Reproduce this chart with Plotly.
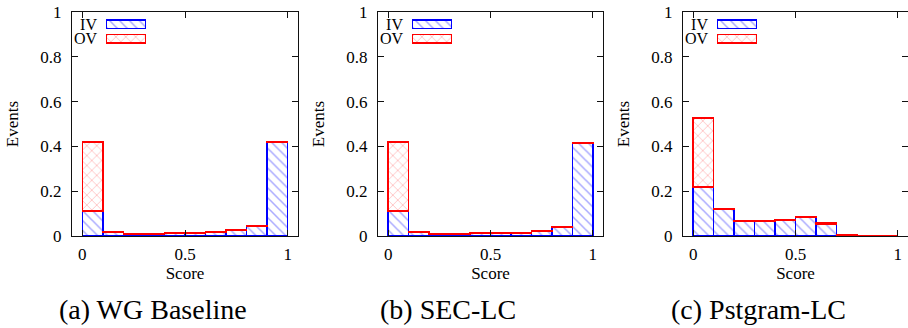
import plotly.graph_objects as go

# ---- data ----
bin_centers = [0.05, 0.15, 0.25, 0.35, 0.45, 0.55, 0.65, 0.75, 0.85, 0.95]
x_tick_vals = [0, 0.5, 1]
x_tick_text = ["0", "0.5", "1"]
y_tick_vals = [0, 0.2, 0.4, 0.6, 0.8, 1]
y_tick_text = ["0", "0.2", "0.4", "0.6", "0.8", "1"]

wg_iv = [0.111, 0.016, 0.009, 0.009, 0.014, 0.014, 0.015, 0.025, 0.044, 0.418]
wg_ov = [0.309, 0.002, 0.001, 0.001, 0.002, 0.002, 0.002, 0.002, 0.002, 0.002]

sec_iv = [0.111, 0.016, 0.009, 0.009, 0.013, 0.013, 0.014, 0.023, 0.041, 0.416]
sec_ov = [0.309, 0.002, 0.001, 0.001, 0.002, 0.002, 0.002, 0.002, 0.002, 0.002]

pst_iv = [0.219, 0.118, 0.064, 0.064, 0.070, 0.085, 0.054, 0.0, 0, 0]
pst_ov = [0.308, 0.002, 0.002, 0.002, 0.002, 0.003, 0.003, 0.007, 0, 0]

captions = ["(a) WG Baseline", "(b) SEC-LC", "(c) Pstgram-LC"]
series_names = ["IV", "OV"]

panels = [(wg_iv, wg_ov), (sec_iv, sec_ov), (pst_iv, pst_ov)]

# ---- layout geometry ----
W, H = 908, 328
panel_px = [(72, 298), (378, 603), (683, 908)]
plot_top, plot_bot = 12, 236
caption_cx = [153, 448, 758]

FONT = '"Liberation Serif", "Times New Roman", Times, serif'
IV_STYLE = dict(color="white", line=dict(color="#0000ff", width=1.5),
                pattern=dict(shape="\\", fgcolor="rgba(30,30,255,0.75)", bgcolor="white",
                             size=7, solidity=0.22))
OV_STYLE = dict(color="white", line=dict(color="#ff0000", width=1.5),
                pattern=dict(shape="x", fgcolor="rgba(255,40,40,0.7)", bgcolor="white",
                             size=7, solidity=0.2))

fig = go.Figure()
layout = dict(
    width=W, height=H, margin=dict(l=0, r=0, t=0, b=0, autoexpand=False),
    paper_bgcolor="white", plot_bgcolor="rgba(0,0,0,0)",
    barmode="stack", showlegend=False,
    font=dict(family=FONT, size=17, color="black"),
)

ydom = [1 - plot_bot / H, 1 - plot_top / H]
annotations = []
for i, (iv, ov) in enumerate(panels):
    k = i + 1
    xa = "x" if k == 1 else f"x{k}"
    ya = "y" if k == 1 else f"y{k}"
    fig.add_trace(go.Bar(x=bin_centers, y=iv, width=0.1, name=series_names[0],
                         marker=IV_STYLE, xaxis=xa, yaxis=ya))
    fig.add_trace(go.Bar(x=bin_centers, y=ov, width=0.1, name=series_names[1],
                         marker=OV_STYLE, xaxis=xa, yaxis=ya))
    x0, x1 = panel_px[i]
    xdom = [x0 / W, min(x1 / W, 1.0)]
    axcommon = dict(showgrid=False, zeroline=False, showline=True, linecolor="#111",
                    linewidth=1.3, mirror="ticks", ticks="inside", ticklen=6,
                    tickcolor="#111", tickwidth=1.3, automargin=False,
                    tickfont=dict(family=FONT, size=17, color="black"))
    layout[f"xaxis{k if k > 1 else ''}"] = dict(
        domain=xdom, range=[-0.05, 1.05], tickvals=x_tick_vals, ticktext=x_tick_text,
        anchor=ya, ticklabelstandoff=2,
        title=dict(text="Score", font=dict(family=FONT, size=17), standoff=3), **axcommon)
    layout[f"yaxis{k if k > 1 else ''}"] = dict(
        domain=ydom, range=[0, 1], tickvals=y_tick_vals, ticktext=y_tick_text,
        anchor=xa, ticklabelstandoff=6,
        title=dict(text="Events", font=dict(family=FONT, size=17), standoff=17), **axcommon)

    # legend swatches drawn on their own small axes
    kk = k + 3
    sxa, sya = f"x{kk}", f"y{kk}"
    fig.add_trace(go.Bar(y=[series_names[0]], x=[1], orientation="h", width=0.56,
                         marker=IV_STYLE, xaxis=sxa, yaxis=sya, hoverinfo="skip"))
    fig.add_trace(go.Bar(y=[series_names[1]], x=[1], orientation="h", width=0.56,
                         marker=OV_STYLE, xaxis=sxa, yaxis=sya, hoverinfo="skip"))
    layout[f"xaxis{kk}"] = dict(domain=[(x0 + 34) / W, (x0 + 74) / W], range=[0, 1],
                                visible=False, anchor=sya, fixedrange=True, automargin=False)
    layout[f"yaxis{kk}"] = dict(domain=[1 - 46 / H, 1 - 17 / H], anchor=sxa,
                                type="category",
                                categoryorder="array", categoryarray=["OV", "IV"],
                                tickmode="array", tickvals=["OV", "IV"], ticktext=["OV", "IV"],
                                range=[-0.5, 1.5], showgrid=False, zeroline=False,
                                showline=False, ticks="", ticklabelstandoff=8,
                                automargin=False,
                                tickfont=dict(family=FONT, size=16, color="black"),
                                fixedrange=True)

    annotations.append(dict(text=captions[i], x=caption_cx[i] / W, y=1 - 309 / H,
                            xref="paper", yref="paper", xanchor="center", yanchor="middle",
                            showarrow=False, font=dict(family=FONT, size=28, color="black")))

layout["annotations"] = annotations
fig.update_layout(**layout)
fig.write_html("out.html", config={"displayModeBar": False},
               post_script="document.body.style.margin='0';")
